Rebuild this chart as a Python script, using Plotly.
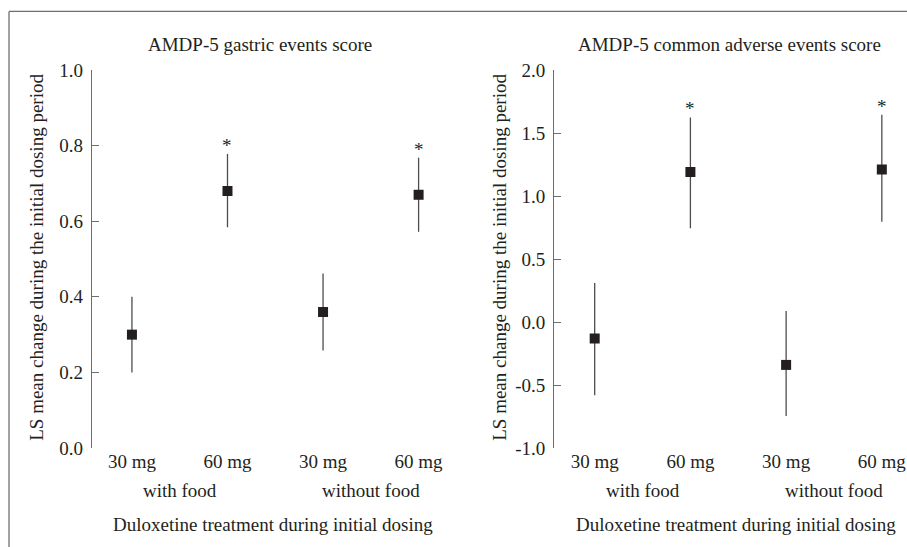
import plotly.graph_objects as go

W = 907          # page width in pixels
S = 0.961        # vertical scale applied by the photograph
OFF = 8.6        # vertical offset of the page in the photograph
HF = 560         # figure height so that it fills the photograph

categories = ["30 mg", "60 mg", "30 mg", "60 mg"]
group_labels = ["with food", "without food"]

# Left panel: AMDP-5 gastric events score
gastric_mean = [0.30, 0.68, 0.36, 0.67]
gastric_lower = [0.20, 0.584, 0.258, 0.572]
gastric_upper = [0.40, 0.778, 0.462, 0.768]
gastric_sig = ["", "*", "", "*"]
gastric_ticks = [0.0, 0.2, 0.4, 0.6, 0.8, 1.0]
gastric_ticktext = ["0.0", "0.2", "0.4", "0.6", "0.8", "1.0"]

# Right panel: AMDP-5 common adverse events score
common_mean = [-0.13, 1.19, -0.34, 1.21]
common_lower = [-0.58, 0.745, -0.745, 0.795]
common_upper = [0.31, 1.624, 0.087, 1.645]
common_sig = ["", "*", "", "*"]
common_ticks = [-1.0, -0.5, 0.0, 0.5, 1.0, 1.5, 2.0]
common_ticktext = ["-1.0", "-0.5", "0.0", "0.5", "1.0", "1.5", "2.0"]

titles = ["AMDP-5 gastric events score", "AMDP-5 common adverse events score"]
y_title = "LS mean change during the initial dosing period"
x_title = "Duloxetine treatment during initial dosing"

FONT = "Liberation Serif"
TXT = "#231f20"
AX = "#6d6e71"
FS = 19


def py(y):
    """target pixel row in the photograph -> paper fraction"""
    return 1 - ((y - OFF) / S) / HF


def px(x):
    return x / W


x_idx = list(range(len(categories)))

fig = go.Figure()

panels = [
    (gastric_mean, gastric_lower, gastric_upper, gastric_sig, "x", "y"),
    (common_mean, common_lower, common_upper, common_sig, "x2", "y2"),
]
for mean, lo, up, sig, xa, ya in panels:
    fig.add_trace(go.Scatter(
        x=x_idx, y=mean, mode="markers", xaxis=xa, yaxis=ya,
        marker=dict(symbol="square", size=10, color=TXT),
        error_y=dict(type="data", symmetric=False,
                     array=[u - m for u, m in zip(up, mean)],
                     arrayminus=[m - l for m, l in zip(mean, lo)],
                     width=0, thickness=1.3, color="#4d4d4f"),
        showlegend=False, hoverinfo="skip",
    ))
    for i, s in enumerate(sig):
        if s:
            fig.add_annotation(x=x_idx[i], y=up[i], xref=xa, yref=ya, text=s,
                               showarrow=False, yanchor="bottom", yshift=-4,
                               font=dict(family=FONT, size=FS, color=TXT))

y_dom = [py(446), py(68.5)]
left_dom = [px(92), px(453)]
right_dom = [px(554.3), 1.0]

axis_common_x = dict(showline=False, showgrid=False, zeroline=False, ticks="",
                     tickvals=x_idx, ticktext=categories,
                     tickfont=dict(family=FONT, size=FS, color=TXT))
axis_common_y = dict(showline=True, linecolor=AX, linewidth=1.3, showgrid=False,
                     zeroline=False, ticks="inside", ticklen=7, tickcolor=AX,
                     tickwidth=1.3, ticklabelstandoff=4,
                     tickfont=dict(family=FONT, size=FS, color=TXT))

fig.update_layout(
    width=W, height=HF,
    margin=dict(l=0, r=0, t=0, b=0),
    paper_bgcolor="white", plot_bgcolor="white",
    xaxis=dict(domain=left_dom, range=[-0.418, 3.36], anchor="y", **axis_common_x),
    yaxis=dict(domain=y_dom, range=[0, 1.0], anchor="x",
               tickvals=gastric_ticks, ticktext=gastric_ticktext, **axis_common_y),
    xaxis2=dict(domain=right_dom, range=[-0.422, 3.263], anchor="y2", **axis_common_x),
    yaxis2=dict(domain=y_dom, range=[-1.0, 2.0], anchor="x2",
                tickvals=common_ticks, ticktext=common_ticktext, **axis_common_y),
)


def ann(**kw):
    kw.setdefault("showarrow", False)
    kw.setdefault("xanchor", "center")
    kw.setdefault("yanchor", "middle")
    kw.setdefault("font", dict(family=FONT, size=FS, color=TXT))
    fig.add_annotation(**kw)


for t, cx in zip(titles, [260, 729]):
    ann(x=px(cx), y=py(43), xref="paper", yref="paper", text=t)
for xa, cx in [("x", 272.5), ("x2", 736)]:
    for gi, g in enumerate(group_labels):
        ann(x=2 * gi + 0.5, y=py(488), xref=xa, yref="paper", text=g)
    ann(x=px(cx), y=py(522), xref="paper", yref="paper", text=x_title)
for cx in [37, 500]:
    ann(x=px(cx), y=py(256), xref="paper", yref="paper", text=y_title, textangle=-90)

# outer frame (top and left edges visible)
frame_top = min(py(10.0), 0.999)
fig.add_shape(type="line", xref="paper", yref="paper", x0=px(9), x1=1.0,
              y0=frame_top, y1=frame_top, line=dict(color="#6f6f6f", width=1.3))
fig.add_shape(type="line", xref="paper", yref="paper", x0=px(9), x1=px(9),
              y0=0, y1=frame_top, line=dict(color="#6f6f6f", width=1.3))

fig.write_html(
    "out.html", config={"displayModeBar": False},
    post_script="document.body.style.margin='0';document.body.style.overflow='hidden';",
)
